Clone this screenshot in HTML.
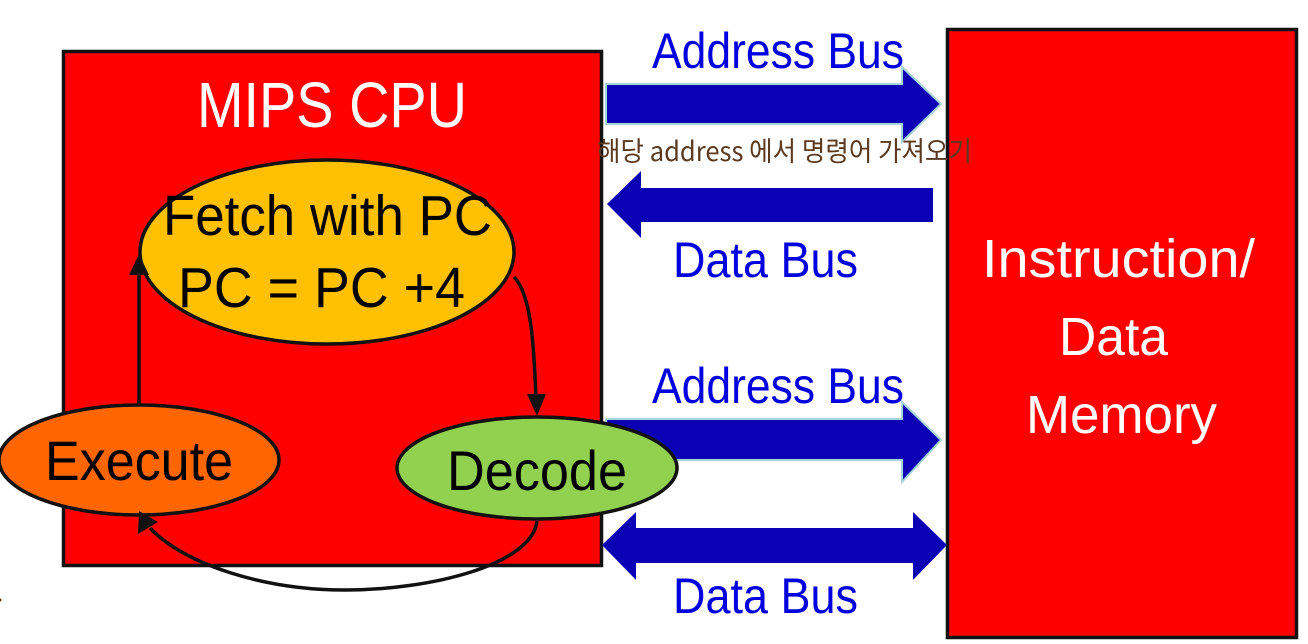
<!DOCTYPE html>
<html><head><meta charset="utf-8">
<style>html,body{margin:0;padding:0;background:#fff}svg{display:block}
text{font-family:"Liberation Sans","DejaVu Sans",sans-serif}</style></head>
<body>
<svg width="1308" height="644" viewBox="0 0 1308 644" xmlns="http://www.w3.org/2000/svg">
<rect width="1308" height="644" fill="#fff"/>
<rect x="63.5" y="51.5" width="538" height="514" fill="#f00" stroke="#111" stroke-width="3.5"/>
<rect x="947.5" y="29.5" width="349" height="608" fill="#f00" stroke="#111" stroke-width="3.5"/>
<circle cx="0" cy="600" r="1.5" fill="#5a3a20"/>
<g fill="#0c00b4">
<polygon points="606,84 902,84 902,67 941,104 902,142 902,124 606,124" stroke="#a8d4dc" stroke-width="2"/>
<polygon points="607,204 641,171 641,188 933,188 933,222 641,222 641,238"/>
<polygon points="606,419 902,419 902,402 941,440 902,482 902,460 606,460" stroke="#a8d4dc" stroke-width="2"/>
<polygon points="602,545 636,512 636,528 913,528 913,563 636,563 636,580"/>
<polygon points="947,545 913,512 913,580"/>
</g>
<ellipse cx="327" cy="252" rx="187" ry="92" fill="#ffc000" stroke="#111" stroke-width="3.5"/>
<ellipse cx="139" cy="460" rx="140" ry="55" fill="#ff6600" stroke="#111" stroke-width="3.5"/>
<ellipse cx="537" cy="468" rx="140" ry="51" fill="#92d050" stroke="#111" stroke-width="3.5"/>
<g fill="none" stroke="#111" stroke-width="3.5">
<path d="M139 405V272"/>
<path d="M514 277C532 295 534 350 536 398"/>
<path d="M537 521C532 565 430 590 345 590C265 590 185 565 150 528"/>
</g>
<g fill="#111">
<polygon points="139,254 129,275 149,275"/>
<polygon points="537,416 527,394 546,394"/>
<polygon points="139,511 138,534 158,522"/>
</g>
<g font-size="50" fill="#0000e0">
<text x="652" y="68" textLength="252" lengthAdjust="spacingAndGlyphs">Address Bus</text>
<text x="673" y="277" textLength="185" lengthAdjust="spacingAndGlyphs">Data Bus</text>
<text x="652" y="403" textLength="252" lengthAdjust="spacingAndGlyphs">Address Bus</text>
<text x="673" y="613" textLength="185" lengthAdjust="spacingAndGlyphs">Data Bus</text>
</g>
<g fill="#fff">
<text x="197" y="127" font-size="64" textLength="270" lengthAdjust="spacingAndGlyphs">MIPS CPU</text>
<text x="982" y="277" font-size="54" textLength="273" lengthAdjust="spacingAndGlyphs">Instruction/</text>
<text x="1059" y="355" font-size="54" textLength="109" lengthAdjust="spacingAndGlyphs">Data</text>
<text x="1026" y="433" font-size="54" textLength="191" lengthAdjust="spacingAndGlyphs">Memory</text>
</g>
<g fill="#000">
<text x="163" y="235" font-size="57" textLength="329" lengthAdjust="spacingAndGlyphs">Fetch with PC</text>
<text x="178" y="307" font-size="57" textLength="287" lengthAdjust="spacingAndGlyphs">PC = PC +4</text>
<text x="45" y="480" font-size="56" textLength="188" lengthAdjust="spacingAndGlyphs">Execute</text>
<text x="447" y="490" font-size="56" textLength="180" lengthAdjust="spacingAndGlyphs">Decode</text>
</g>
<text x="597" y="161" font-size="27" fill="#5a3a20" textLength="375" lengthAdjust="spacingAndGlyphs" style="font-family:'WenQuanYi Zen Hei','Noto Sans CJK KR',sans-serif">해당 address 에서 명령어 가져오기</text>
</svg>
</body></html>
